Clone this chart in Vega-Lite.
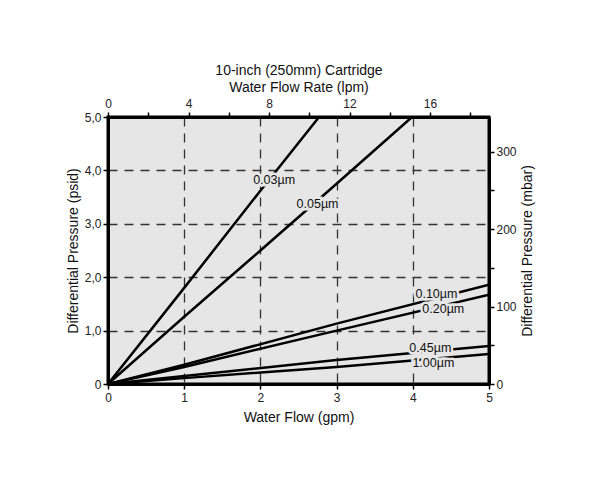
{
  "$schema": "https://vega.github.io/schema/vega-lite/v6.json",
  "autosize": {"type": "none"},
  "width": 381,
  "height": 267,
  "padding": {"left": 108, "top": 117, "right": 117, "bottom": 104},
  "background": "white",
  "config": {
    "font": "Liberation Sans",
    "view": {"stroke": "black", "strokeWidth": 3, "fill": "#e6e6e6"},
    "axis": {
      "domainColor": "black",
      "domainWidth": 3,
      "tickColor": "black",
      "tickWidth": 1.5,
      "tickSize": 5,
      "labelFont": "Liberation Sans",
      "labelFontSize": 12,
      "labelColor": "#222",
      "labelFlush": false,
      "labelOverlap": false,
      "titleFont": "Liberation Sans",
      "titleFontSize": 14,
      "titleFontWeight": "normal",
      "titleColor": "#111"
    }
  },
  "layer": [
    {
      "layer": [
        {
          "data": {"values": [
            {"filter": "0.03µm", "gpm": 0, "psi": 0},
            {"filter": "0.03µm", "gpm": 1, "psi": 1.8},
            {"filter": "0.03µm", "gpm": 2, "psi": 3.62},
            {"filter": "0.03µm", "gpm": 2.77, "psi": 5.0},
            {"filter": "0.05µm", "gpm": 0, "psi": 0},
            {"filter": "0.05µm", "gpm": 1, "psi": 1.26},
            {"filter": "0.05µm", "gpm": 2, "psi": 2.5},
            {"filter": "0.05µm", "gpm": 3, "psi": 3.75},
            {"filter": "0.05µm", "gpm": 3.99, "psi": 5.0},
            {"filter": "0.10µm", "gpm": 0, "psi": 0},
            {"filter": "0.10µm", "gpm": 1, "psi": 0.36},
            {"filter": "0.10µm", "gpm": 3, "psi": 1.13},
            {"filter": "0.10µm", "gpm": 5, "psi": 1.86},
            {"filter": "0.20µm", "gpm": 0, "psi": 0},
            {"filter": "0.20µm", "gpm": 1, "psi": 0.32},
            {"filter": "0.20µm", "gpm": 3, "psi": 1.0},
            {"filter": "0.20µm", "gpm": 5, "psi": 1.67},
            {"filter": "0.45µm", "gpm": 0, "psi": 0},
            {"filter": "0.45µm", "gpm": 1, "psi": 0.15},
            {"filter": "0.45µm", "gpm": 3, "psi": 0.45},
            {"filter": "0.45µm", "gpm": 5, "psi": 0.71},
            {"filter": "1.00µm", "gpm": 0, "psi": 0},
            {"filter": "1.00µm", "gpm": 1, "psi": 0.11},
            {"filter": "1.00µm", "gpm": 3, "psi": 0.32},
            {"filter": "1.00µm", "gpm": 5, "psi": 0.56}
          ]},
          "mark": {"type": "line", "color": "black", "strokeWidth": 2.5, "clip": true},
          "encoding": {
            "x": {
              "field": "gpm", "type": "quantitative",
              "scale": {"domain": [0, 5], "nice": false},
              "axis": {
                "orient": "bottom",
                "title": "Water Flow (gpm)",
                "titlePadding": 7,
                "values": [0, 0.5, 1, 1.5, 2, 2.5, 3, 3.5, 4, 4.5, 5],
                "labelExpr": "datum.value % 1 == 0 ? format(datum.value, 'd') : ''",
                "labelPadding": 3,
                "grid": true,
                "gridColor": "#333",
                "gridDash": [9, 7],
                "gridWidth": 1.3,
                "gridOpacity": {"condition": {"test": "datum.value > 0 && datum.value < 5 && datum.value % 1 == 0", "value": 1}, "value": 0}
              }
            },
            "y": {
              "field": "psi", "type": "quantitative",
              "scale": {"domain": [0, 5], "nice": false},
              "axis": {
                "orient": "left",
                "title": "Differential Pressure (psid)",
                "titlePadding": 4,
                "values": [0, 0.5, 1, 1.5, 2, 2.5, 3, 3.5, 4, 4.5, 5],
                "labelExpr": "datum.value == 0 ? '0' : (datum.value % 1 == 0 ? replace(format(datum.value, '.1f'), '.', ',') : '')",
                "labelPadding": 2,
                "grid": true,
                "gridColor": "#333",
                "gridDash": [9, 7],
                "gridWidth": 1.3,
                "gridOpacity": {"condition": {"test": "datum.value > 0 && datum.value < 5 && datum.value % 1 == 0", "value": 1}, "value": 0}
              }
            },
            "detail": {"field": "filter"}
          }
        },
        {
          "data": {"values": [
            {"label": "0.03µm", "gpm": 2.18, "psi": 3.82},
            {"label": "0.05µm", "gpm": 2.75, "psi": 3.37},
            {"label": "0.10µm", "gpm": 4.31, "psi": 1.69},
            {"label": "0.20µm", "gpm": 4.40, "psi": 1.40},
            {"label": "0.45µm", "gpm": 4.23, "psi": 0.68},
            {"label": "1.00µm", "gpm": 4.27, "psi": 0.40}
          ]},
          "layer": [
            {
              "mark": {"type": "text", "fontSize": 12.5, "font": "Liberation Sans", "color": "#e6e6e6", "stroke": "#e6e6e6", "strokeWidth": 5, "align": "center", "baseline": "middle"},
              "encoding": {
                "x": {"field": "gpm", "type": "quantitative"},
                "y": {"field": "psi", "type": "quantitative"},
                "text": {"field": "label"}
              }
            },
            {
              "mark": {"type": "text", "fontSize": 12.5, "font": "Liberation Sans", "color": "#111", "align": "center", "baseline": "middle"},
              "encoding": {
                "x": {"field": "gpm", "type": "quantitative"},
                "y": {"field": "psi", "type": "quantitative"},
                "text": {"field": "label"}
              }
            }
          ]
        }
      ]
    },
    {
      "data": {"values": [
        {"lpm": 0, "mbar": 0},
        {"lpm": 18.93, "mbar": 344.7}
      ]},
      "mark": {"type": "point", "opacity": 0},
      "encoding": {
        "x": {
          "field": "lpm", "type": "quantitative",
          "scale": {"domain": [0, 18.93], "nice": false},
          "axis": {
            "orient": "top",
            "title": ["10-inch (250mm) Cartridge", "Water Flow Rate (lpm)"],
            "titleLineHeight": 17,
            "titlePadding": 3,
            "values": [0, 2, 4, 6, 8, 10, 12, 14, 16, 18],
            "labelExpr": "datum.value % 4 == 0 ? format(datum.value, 'd') : ''",
            "labelPadding": 2,
            "grid": false
          }
        },
        "y": {
          "field": "mbar", "type": "quantitative",
          "scale": {"domain": [0, 344.7], "nice": false},
          "axis": {
            "orient": "right",
            "title": "Differential Pressure (mbar)",
            "titleAngle": 270,
            "titleBaseline": "top",
            "titlePadding": 4,
            "values": [0, 50, 100, 150, 200, 250, 300],
            "labelExpr": "datum.value % 100 == 0 ? format(datum.value, 'd') : ''",
            "labelPadding": 2,
            "grid": false
          }
        }
      }
    }
  ],
  "resolve": {"scale": {"x": "independent", "y": "independent"}}
}
